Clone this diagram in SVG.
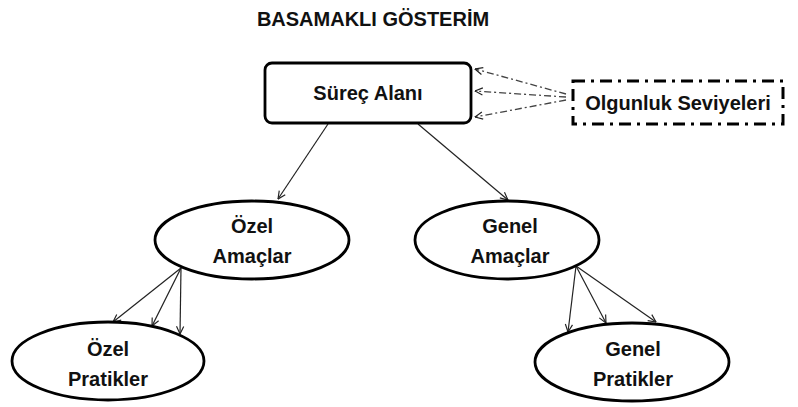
<svg xmlns="http://www.w3.org/2000/svg" width="798" height="407" viewBox="0 0 798 407">
  <style>
    .lbl { font-family: "Liberation Sans", Arial, sans-serif; font-weight: bold; font-size: 20px; fill: #111; text-anchor: middle; }
    .title { font-family: "Liberation Sans", Arial, sans-serif; font-weight: bold; font-size: 20px; fill: #111; text-anchor: middle; }
    .shape { fill: #fff; stroke: #000; stroke-width: 2.8; }
    .dashbox { fill: #fff; stroke: #000; stroke-width: 3; stroke-dasharray: 12 6 3 6; }
    .edge { fill: none; stroke: #222; stroke-width: 1.2; marker-end: url(#arrow); }
    .edge-dd { fill: none; stroke: #444; stroke-width: 1.3; stroke-dasharray: 7 3 2 3; marker-end: url(#arrow); }
  </style>
  <defs>
    <marker id="arrow" viewBox="0 0 10 10" refX="9.5" refY="5" markerWidth="9" markerHeight="9" markerUnits="userSpaceOnUse" orient="auto">
      <path d="M1,1 L9.5,5 L1,9" fill="none" stroke="#222" stroke-width="1.3"/>
    </marker>
  </defs>

  <rect width="798" height="407" fill="#fff"/>

  <text class="title" x="373" y="26">BASAMAKLI GÖSTERİM</text>

  <g id="connectors">
    <!-- maturity levels to process area -->
    <path class="edge-dd" d="M566,94 L475,69"/>
    <path class="edge-dd" d="M566,97 L475,91"/>
    <path class="edge-dd" d="M566,100 L475,117"/>
    <!-- process area to goals -->
    <path class="edge" d="M328,124 L278,199"/>
    <path class="edge" d="M418,124 L508,200"/>
    <!-- specific goals to specific practices -->
    <path class="edge" d="M181,268 L113,322"/>
    <path class="edge" d="M181,268 L152,326"/>
    <path class="edge" d="M181,268 L180,334"/>
    <!-- generic goals to generic practices -->
    <path class="edge" d="M576,266 L568,332"/>
    <path class="edge" d="M576,266 L606,323"/>
    <path class="edge" d="M576,266 L656,322"/>
  </g>

  <g id="surec-alani">
    <rect class="shape" x="265" y="63" width="206" height="60" rx="7"/>
    <text class="lbl" x="368" y="100">Süreç Alanı</text>
  </g>

  <g id="olgunluk-seviyeleri">
    <rect class="dashbox" x="573" y="81" width="210" height="43"/>
    <text class="lbl" x="678" y="110">Olgunluk Seviyeleri</text>
  </g>

  <g id="ozel-amaclar">
    <ellipse class="shape" cx="252" cy="240" rx="97" ry="39"/>
    <text class="lbl" x="252" y="233">Özel</text>
    <text class="lbl" x="252" y="263">Amaçlar</text>
  </g>

  <g id="genel-amaclar">
    <ellipse class="shape" cx="507" cy="240" rx="92" ry="39"/>
    <text class="lbl" x="510" y="233">Genel</text>
    <text class="lbl" x="510" y="263">Amaçlar</text>
  </g>

  <g id="ozel-pratikler">
    <ellipse class="shape" cx="108" cy="361" rx="96" ry="39"/>
    <text class="lbl" x="108" y="356">Özel</text>
    <text class="lbl" x="108" y="386">Pratikler</text>
  </g>

  <g id="genel-pratikler">
    <ellipse class="shape" cx="632" cy="362" rx="97" ry="39"/>
    <text class="lbl" x="633" y="356">Genel</text>
    <text class="lbl" x="633" y="386">Pratikler</text>
  </g>
</svg>
